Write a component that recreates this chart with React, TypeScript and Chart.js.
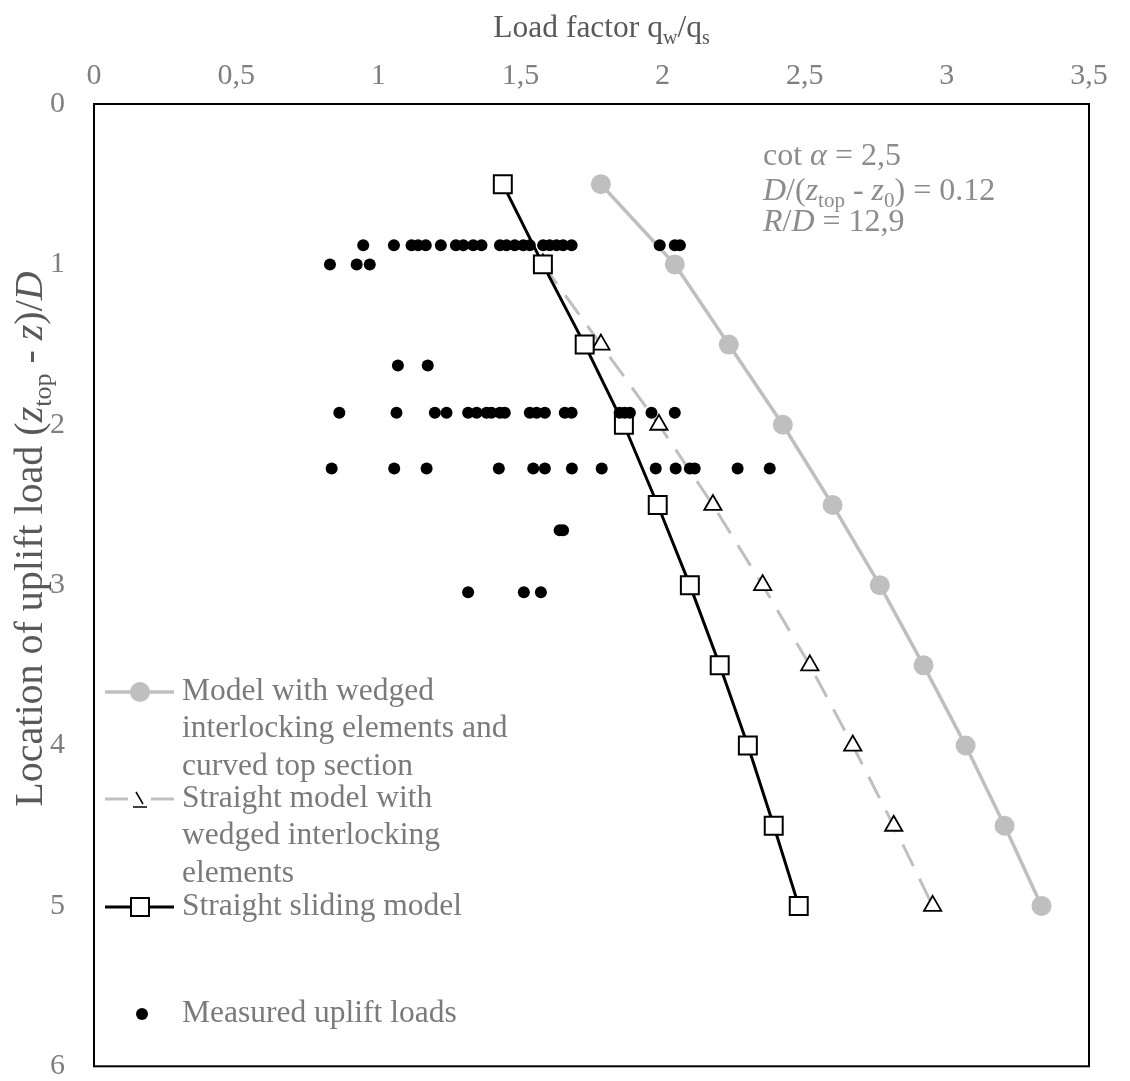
import React, { useEffect, useRef } from 'react';
import { Chart, registerables } from 'chart.js';

Chart.register(...registerables);

const FONT = "'Liberation Serif', 'Times New Roman', serif";

// ---- tick labels ----
const xTickValues = [0, 0.5, 1, 1.5, 2, 2.5, 3, 3.5];
const yTickValues = [0, 1, 2, 3, 4, 5, 6];

// ---- model series (x = load factor, y = location) ----
const curvedDepths = [0.5, 1, 1.5, 2, 2.5, 3, 3.5, 4, 4.5, 5];
const curvedLoads = [1.783, 2.043, 2.233, 2.423, 2.598, 2.764, 2.918, 3.066, 3.203, 3.333];

const straightWedgedDepths = [1, 1.5, 2, 2.5, 3, 3.5, 4, 4.5, 5];
const straightWedgedLoads = [1.579, 1.783, 1.987, 2.177, 2.352, 2.518, 2.669, 2.813, 2.95];

const slidingDepths = [0.5, 1, 1.5, 2, 2.5, 3, 3.5, 4, 4.5, 5];
const slidingLoads = [1.438, 1.579, 1.726, 1.864, 1.983, 2.096, 2.201, 2.3, 2.391, 2.479];

// ---- measured uplift loads, by row ----
const measuredRowDepths = [0.88, 1.0, 1.63, 1.925, 2.272, 2.658, 3.045];
const measuredRow1 = [0.947, 1.055, 1.117, 1.14, 1.167, 1.22, 1.273, 1.299, 1.334, 1.363, 1.428, 1.451, 1.48, 1.51, 1.533, 1.58, 1.603, 1.627, 1.65, 1.68, 1.99, 2.043, 2.061];
const measuredRow2 = [0.83, 0.924, 0.97];
const measuredRow3 = [1.069, 1.174];
const measuredRow4 = [0.863, 1.064, 1.199, 1.24, 1.316, 1.346, 1.381, 1.398, 1.428, 1.445, 1.533, 1.557, 1.586, 1.656, 1.68, 1.849, 1.867, 1.885, 1.961, 2.043];
const measuredRow5 = [0.836, 1.056, 1.17, 1.424, 1.545, 1.586, 1.681, 1.786, 1.976, 2.046, 2.096, 2.113, 2.264, 2.377];
const measuredRow6 = [1.638, 1.65];
const measuredRow7 = [1.316, 1.512, 1.572];
const measuredRows = [measuredRow1, measuredRow2, measuredRow3, measuredRow4, measuredRow5, measuredRow6, measuredRow7];

// ---- legend labels ----
const legendCurved = ['Model with wedged', 'interlocking elements and', 'curved top section'];
const legendStraightWedged = ['Straight model with', 'wedged interlocking', 'elements'];
const legendSliding = ['Straight sliding model'];
const legendMeasured = ['Measured uplift loads'];

const GRAY = '#bfbfbf';

type Seg = { t: string; i?: boolean; sub?: boolean };

function drawRich(ctx: CanvasRenderingContext2D, segs: Seg[], x: number, y: number, size: number, color: string, align: 'left' | 'center') {
  const fontFor = (s: Seg) => `${s.i ? 'italic ' : ''}${s.sub ? Math.round(size * 0.65) : size}px ${FONT}`;
  let total = 0;
  const widths: number[] = [];
  for (const s of segs) {
    ctx.font = fontFor(s);
    const w = ctx.measureText(s.t).width;
    widths.push(w);
    total += w;
  }
  let cx = align === 'center' ? x - total / 2 : x;
  ctx.fillStyle = color;
  ctx.textAlign = 'left';
  ctx.textBaseline = 'alphabetic';
  segs.forEach((s, k) => {
    ctx.font = fontFor(s);
    ctx.fillText(s.t, cx, s.sub ? y + size * 0.22 : y);
    cx += widths[k];
  });
}

const decorPlugin = {
  id: 'decor',
  beforeDatasetsDraw(chart: any) {
    const { ctx, chartArea } = chart;
    ctx.save();
    ctx.strokeStyle = '#000';
    ctx.lineWidth = 2;
    ctx.strokeRect(chartArea.left, chartArea.top, chartArea.right - chartArea.left, chartArea.bottom - chartArea.top);
    ctx.restore();
  },
  afterDraw(chart: any) {
    const { ctx, chartArea } = chart;
    ctx.save();
    // X axis title
    drawRich(ctx, [{ t: 'Load factor q' }, { t: 'w', sub: true }, { t: '/q' }, { t: 's', sub: true }],
      (chartArea.left + chartArea.right) / 2 + 10, 29, 31.5, '#595959', 'center');
    // Y axis title (rotated)
    ctx.save();
    ctx.translate(20, 531);
    ctx.rotate(-Math.PI / 2);
    drawRich(ctx, [
      { t: 'Location of uplift load (' }, { t: 'z', i: true }, { t: 'top', sub: true },
      { t: ' - ' }, { t: 'z', i: true }, { t: ')/' }, { t: 'D', i: true },
    ], 0, 14, 40, '#595959', 'center');
    ctx.restore();

    // annotation
    const ax = 755;
    const annColor = '#8c8c8c';
    drawRich(ctx, [{ t: 'cot ' }, { t: 'α', i: true }, { t: ' = 2,5' }], ax, 157, 32, annColor, 'left');
    drawRich(ctx, [{ t: 'D', i: true }, { t: '/(' }, { t: 'z', i: true }, { t: 'top', sub: true }, { t: ' - ' }, { t: 'z', i: true }, { t: '0', sub: true }, { t: ') = 0.12' }], ax, 192, 32, annColor, 'left');
    drawRich(ctx, [{ t: 'R', i: true }, { t: '/' }, { t: 'D', i: true }, { t: ' = 12,9' }], ax, 223, 32, annColor, 'left');

    // legend
    const lx0 = 97, lx1 = 166, mx = 132, tx = 174;
    const lh = 37.2;
    const textColor = '#7a7a7a';
    const drawLines = (lines: string[], y0: number) => {
      ctx.fillStyle = textColor;
      ctx.font = `31.5px ${FONT}`;
      ctx.textAlign = 'left';
      ctx.textBaseline = 'middle';
      lines.forEach((l, k) => ctx.fillText(l, tx, y0 + k * lh));
    };
    // entry 1
    let y = 684;
    ctx.strokeStyle = GRAY; ctx.lineWidth = 3.5; ctx.setLineDash([]);
    ctx.beginPath(); ctx.moveTo(lx0, y); ctx.lineTo(lx1, y); ctx.stroke();
    ctx.fillStyle = GRAY; ctx.beginPath(); ctx.arc(mx, y, 10, 0, Math.PI * 2); ctx.fill();
    drawLines(legendCurved, y);
    // entry 2
    y = 791;
    ctx.strokeStyle = GRAY; ctx.lineWidth = 3;
    ctx.beginPath(); ctx.moveTo(lx0, y); ctx.lineTo(lx0 + 23, y); ctx.moveTo(lx1 - 23, y); ctx.lineTo(lx1, y); ctx.stroke();
    ctx.strokeStyle = '#000'; ctx.lineWidth = 1.5;
    ctx.beginPath(); ctx.moveTo(mx - 4, y - 7); ctx.lineTo(mx + 3, y + 5); ctx.stroke();
    ctx.beginPath(); ctx.moveTo(mx - 7, y + 8); ctx.lineTo(mx + 7, y + 8); ctx.stroke();
    drawLines(legendStraightWedged, y);
    // entry 3
    y = 899;
    ctx.strokeStyle = '#000'; ctx.lineWidth = 3;
    ctx.beginPath(); ctx.moveTo(lx0, y); ctx.lineTo(lx1, y); ctx.stroke();
    ctx.fillStyle = '#fff'; ctx.lineWidth = 2;
    ctx.fillRect(mx - 9, y - 9, 18, 18); ctx.strokeRect(mx - 9, y - 9, 18, 18);
    drawLines(legendSliding, y);
    // entry 4
    y = 1006;
    ctx.fillStyle = '#000'; ctx.beginPath(); ctx.arc(mx + 2, y, 6, 0, Math.PI * 2); ctx.fill();
    drawLines(legendMeasured, y);
    ctx.restore();
  },
};

export default function App() {
  const canvasRef = useRef<HTMLCanvasElement | null>(null);

  useEffect(() => {
    if (!canvasRef.current) return;
    const curved = curvedDepths.map((d, i) => ({ x: curvedLoads[i], y: d }));
    const straightW = straightWedgedDepths.map((d, i) => ({ x: straightWedgedLoads[i], y: d }));
    const sliding = slidingDepths.map((d, i) => ({ x: slidingLoads[i], y: d }));
    const measured: { x: number; y: number }[] = [];
    measuredRows.forEach((row, r) => row.forEach((v) => measured.push({ x: v, y: measuredRowDepths[r] })));

    const chart = new Chart(canvasRef.current, {
      type: 'scatter',
      data: {
        datasets: [
          {
            label: 'Measured uplift loads',
            data: measured,
            showLine: false,
            pointRadius: 6,
            pointBackgroundColor: '#000',
            pointBorderWidth: 0,
            order: 0,
          },
          {
            label: 'Straight sliding model',
            data: sliding,
            showLine: true,
            borderColor: '#000',
            borderWidth: 3,
            pointStyle: 'rect',
            pointRadius: 12.7,
            pointBackgroundColor: '#fff',
            pointBorderColor: '#000',
            pointBorderWidth: 2,
            order: 1,
          },
          {
            label: 'Straight model with wedged interlocking elements',
            data: straightW,
            showLine: true,
            borderColor: GRAY,
            borderWidth: 3,
            borderDash: [24, 14],
            pointStyle: 'triangle',
            pointRadius: 10,
            pointBackgroundColor: '#fff',
            pointBorderColor: '#000',
            pointBorderWidth: 1.8,
            order: 2,
          },
          {
            label: 'Model with wedged interlocking elements and curved top section',
            data: curved,
            showLine: true,
            borderColor: GRAY,
            borderWidth: 3.5,
            pointStyle: 'circle',
            pointRadius: 10,
            pointBackgroundColor: GRAY,
            pointBorderColor: GRAY,
            pointBorderWidth: 0,
            order: 3,
          },
        ] as any,
      },
      options: {
        animation: false,
        responsive: true,
        maintainAspectRatio: false,
        layout: { padding: { left: 0, top: 0, right: 33, bottom: 11 } },
        plugins: { legend: { display: false }, tooltip: { enabled: false } },
        scales: {
          x: {
            type: 'linear',
            position: 'top',
            min: 0,
            max: 3.5,
            grid: { display: false },
            border: { display: false },
            afterBuildTicks: (s: any) => { s.ticks = xTickValues.map((v) => ({ value: v })); },
            afterFit: (s: any) => { s.height = 96; s.paddingLeft = 0; s.paddingRight = 0; },
            ticks: {
              padding: 2,
              color: '#7f7f7f',
              font: { family: FONT, size: 30 },
              callback: (v: any) => String(v).replace('.', ','),
            },
          },
          y: {
            type: 'linear',
            reverse: true,
            min: 0,
            max: 6,
            grid: { display: true, drawOnChartArea: false, drawTicks: true, tickLength: 29, color: 'rgba(0,0,0,0)' },
            border: { display: false },
            afterBuildTicks: (s: any) => { s.ticks = yTickValues.map((v) => ({ value: v })); },
            afterFit: (s: any) => { s.width = 86; s.paddingTop = 0; s.paddingBottom = 0; },
            ticks: {
              padding: 0,
              color: '#7f7f7f',
              font: { family: FONT, size: 30 },
            },
          },
        },
      } as any,
      plugins: [decorPlugin],
    });
    return () => chart.destroy();
  }, []);

  return (
    <div style={{ width: 1114, height: 1073, position: 'relative' }}>
      <canvas ref={canvasRef} />
    </div>
  );
}
